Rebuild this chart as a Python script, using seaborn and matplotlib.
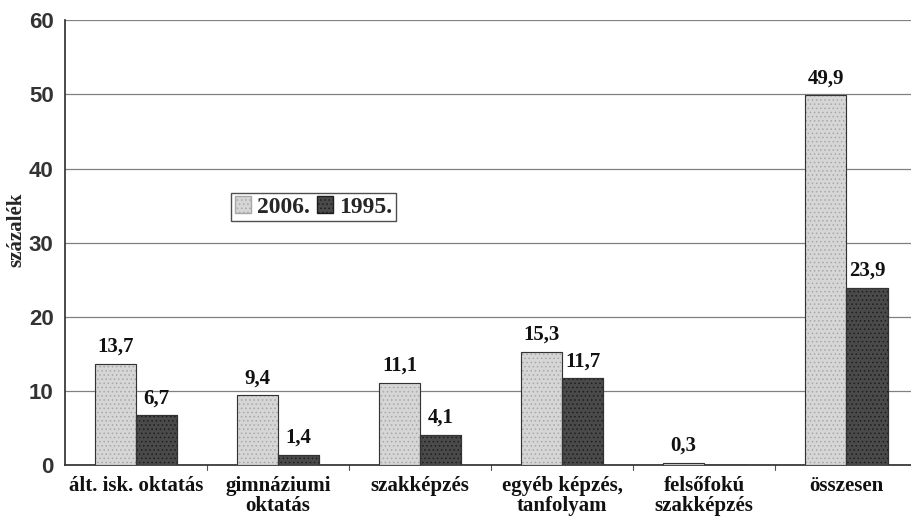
import pandas as pd
import matplotlib
matplotlib.use("Agg")
import matplotlib.pyplot as plt
import seaborn as sns
from matplotlib.patches import Patch

# --- data ---
categories = ["ált. isk. oktatás", "gimnáziumi\noktatás", "szakképzés",
              "egyéb képzés,\ntanfolyam", "felsőfokú\nszakképzés", "összesen"]
years = ["2006.", "1995."]
values_2006 = [13.7, 9.4, 11.1, 15.3, 0.3, 49.9]
values_1995 = [6.7, 1.4, 4.1, 11.7, 0.0, 23.9]
yticks = [0, 10, 20, 30, 40, 50, 60]

df = pd.DataFrame({
    "kategoria": categories * 2,
    "ev": [years[0]] * len(categories) + [years[1]] * len(categories),
    "ertek": values_2006 + values_1995,
})

sns.set_theme(style="white")
plt.rcParams["font.family"] = ["Liberation Serif", "DejaVu Serif"]
plt.rcParams["hatch.linewidth"] = 0.6

colors = {"2006.": "#d6d6d6", "1995.": "#4a4a4a"}
hatches = {"2006.": "....", "1995.": "...."}
hatch_colors = {"2006.": "#a8a8a8", "1995.": "#1e1e1e"}

fig = plt.figure(figsize=(9.12, 5.18), dpi=100)
ax = fig.add_axes([0.071, 0.102, 0.935, 0.859])

sns.barplot(data=df, x="kategoria", y="ertek", hue="ev", hue_order=years,
            palette=colors, width=0.58, gap=0, dodge=True, ax=ax,
            legend=False, edgecolor="#333333", linewidth=0.8, zorder=3)

for cont, yr in zip(ax.containers, years):
    for bar in cont:
        bar.set_hatch(hatches[yr])
        bar.set_edgecolor(hatch_colors[yr])
    labels = []
    for v in (values_2006 if yr == "2006." else values_1995):
        labels.append(f"{v:.1f}".replace(".", ",") if v > 0 else "")
    ax.bar_label(cont, labels=labels, padding=5, fontsize=15,
                 fontweight="bold", color="#111111")

# outline each bar again without hatch colour
for cont in ax.containers:
    for bar in cont:
        ax.add_patch(plt.Rectangle(bar.get_xy(), bar.get_width(), bar.get_height(),
                                   fill=False, edgecolor="#333333", lw=0.8, zorder=4))

ax.set_ylim(0, 60)
ax.set_xlim(-0.5, 5.5)
ax.set_yticks(yticks)
ax.set_yticklabels([str(t) for t in yticks], family="Liberation Sans",
                   fontsize=16, fontweight="bold", color="#333333")
ax.yaxis.grid(True, color="#808080", linewidth=0.9, zorder=0)
ax.tick_params(axis="y", length=0, pad=8)

ax.set_xticks(range(len(categories)))
ax.set_xticklabels(categories, fontsize=15, fontweight="bold", color="#111111",
                   linespacing=1.0)
ax.tick_params(axis="x", length=0, pad=8)
for b in [0.5, 1.5, 2.5, 3.5, 4.5]:
    ax.plot([b, b], [0, -0.6], color="#555555", lw=0.8, clip_on=False)

ax.set_xlabel("")
ax.set_ylabel("százalék", fontsize=15, fontweight="bold")
ax.yaxis.set_label_coords(-0.045, 0.53)

for side in ["top", "right"]:
    ax.spines[side].set_visible(False)
ax.spines["left"].set_color("#333333")
ax.spines["bottom"].set_color("#333333")

handles = [Patch(facecolor=colors[y], edgecolor=hatch_colors[y], hatch=hatches[y])
           for y in years]
leg = ax.legend(handles, years, loc="lower left", bbox_to_anchor=(0.195, 0.548),
                borderaxespad=0, ncol=2, frameon=True, fancybox=False,
                handlelength=0.7, handleheight=0.7, handletextpad=0.25,
                columnspacing=0.3, borderpad=0.15,
                prop={"family": "Liberation Serif", "weight": "bold", "size": 17})
leg.get_frame().set_edgecolor("#222222")
leg.get_frame().set_linewidth(1.0)

fig.savefig("out.png", dpi=100, facecolor="white")
